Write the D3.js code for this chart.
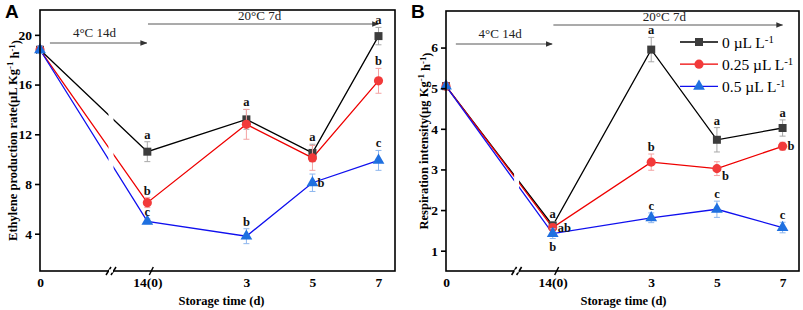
<!DOCTYPE html>
<html>
<head>
<meta charset="utf-8">
<script src="https://cdn.jsdelivr.net/npm/d3@7"></script>
<style>
  html, body { margin: 0; padding: 0; background: #fff; }
  svg { display: block; }
</style>
</head>
<body>
<div id="chart"></div>
<script>
// x categories (storage time) and their place on a broken axis
const xLabels = ["0", "14(0)", "3", "5", "7"]
const xPos = [-3.25, 0, 3, 5, 7]
const seriesNames = ["0 µL L", "0.25 µL L", "0.5 µL L"]

// panel A: ethylene production rate
const eth0 = [18.8, 10.6, 13.2, 10.5, 19.9]
const eth0Err = [0.3, 0.8, 0.8, 0.7, 0.7]
const eth025 = [18.8, 6.5, 12.8, 10.1, 16.3]
const eth025Err = [0.3, 0.4, 1.2, 1.0, 1.0]
const eth05 = [18.8, 5.0, 3.8, 8.1, 9.9]
const eth05Err = [0.3, 0.2, 0.6, 0.7, 0.8]
const ethLetters0 = ["", "a", "a", "a", "a"]
const ethLetters025 = ["", "b", "", "", "b"]
const ethLetters05 = ["", "c", "b", "b", "c"]
const ethTicks = [4, 8, 12, 16, 20]

// panel B: respiration intensity
const res0 = [5.05, 1.62, 5.95, 3.73, 4.02]
const res0Err = [0.05, 0.1, 0.3, 0.3, 0.2]
const res025 = [5.05, 1.57, 3.18, 3.02, 3.57]
const res025Err = [0.05, 0.08, 0.2, 0.17, 0.1]
const res05 = [5.05, 1.42, 1.81, 2.02, 1.57]
const res05Err = [0.05, 0.12, 0.12, 0.2, 0.13]
const resLetters0 = ["", "a", "a", "a", "a"]
const resLetters025 = ["", "ab", "b", "b", "b"]
const resLetters05 = ["", "b", "c", "c", "c"]
const resTicks = [1, 2, 3, 4, 5, 6]

// where each letter sits relative to its point (t=top, r=right, rb=right-below, b=below)
const ethPlace = [["t","t","t","t","t"], ["t","t","t","t","t"], ["t","t","t","r","t"]]
const resPlace = [["t","t","t","t","t"], ["t","r","t","rb","r"], ["t","b","t","t","t"]]

const W = 803, H = 310
const SERIF = "'Liberation Serif', 'DejaVu Serif', serif"
const lineColors = ["#000000", "#ee0000", "#1010ee"]
const markColors = ["#3c3c3c", "#f23a3a", "#1f70e0"]
const errColors = ["#a8a8a8", "#f4a3a3", "#8db6ee"]
const symbols = [d3.symbolSquare, d3.symbolCircle, d3.symbolTriangle]
const symSizes = [64, 66, 60]

const svg = d3.select("#chart").append("svg")
  .attr("width", W).attr("height", H)
  .attr("viewBox", `0,0,${W},${H}`)

const defs = svg.append("defs")
defs.append("marker")
    .attr("id", "arrow")
    .attr("viewBox", "0 0 10 10")
    .attr("refX", 9).attr("refY", 5)
    .attr("markerWidth", 7).attr("markerHeight", 7)
    .attr("markerUnits", "userSpaceOnUse")
    .attr("orient", "auto")
  .append("path")
    .attr("d", "M0,1L10,5L0,9z")
    .attr("fill", "#333")

function supText(sel, parts){
  // parts: array of [text, isSuper]
  parts.forEach(([t, sup], i) => {
    const prev = i > 0 && parts[i-1][1]
    sel.append("tspan")
      .attr("dy", sup ? "-0.45em" : (prev ? "0.45em" : null))
      .attr("font-size", sup ? "0.7em" : null)
      .text(t)
  })
}

function drawPanel(cfg){
  const m = cfg.box
  const x = d3.scaleLinear().domain([-3.25, 7.5]).range([m.left, m.right])
  const y = d3.scaleLinear().domain(cfg.yDomain).range([m.bottom, m.top])
  const g = svg.append("g")
  const breakX = x(-1.1)

  const clipId = "clip" + cfg.id
  const clip = defs.append("clipPath").attr("id", clipId)
  clip.append("rect").attr("x", m.left - 10).attr("y", 0)
    .attr("width", breakX - 2.5 - m.left + 10).attr("height", H)
  clip.append("rect").attr("x", breakX + 2.5).attr("y", 0)
    .attr("width", m.right - breakX).attr("height", H)

  // annotations
  const ann = g.append("g").attr("font-family", SERIF).attr("font-size", 13).attr("fill", "#222")
  ann.append("line")
    .attr("x1", x(-2.95)).attr("x2", x(-0.02))
    .attr("y1", m.top + 33).attr("y2", m.top + 33)
    .attr("stroke", "#444").attr("stroke-width", 0.9)
    .attr("marker-end", "url(#arrow)")
  ann.append("text").attr("x", x(-1.6)).attr("y", m.top + 27)
    .attr("text-anchor", "middle").text("4°C 14d")
  ann.append("line")
    .attr("x1", x(0.02)).attr("x2", x(7.0))
    .attr("y1", m.top + 14).attr("y2", m.top + 14)
    .attr("stroke", "#444").attr("stroke-width", 0.9)
    .attr("marker-end", "url(#arrow)")
  ann.append("text").attr("x", x(3.4)).attr("y", m.top + 10)
    .attr("text-anchor", "middle").text("20°C 7d")

  const line = d3.line().x((d, i) => x(xPos[i])).y(d => y(d))

  cfg.series.forEach((s, k) => {
    g.append("path")
      .datum(s.values)
      .attr("clip-path", `url(#${clipId})`)
      .attr("fill", "none")
      .attr("stroke", lineColors[k])
      .attr("stroke-width", 1.3)
      .attr("d", line)
  })

  cfg.series.forEach((s, k) => {
    const pts = s.values.map((v, i) => ({ v, e: s.errors[i], px: x(xPos[i]) }))
    const eb = g.append("g").attr("stroke", errColors[k]).attr("stroke-width", 1)
    pts.forEach(p => {
      eb.append("line").attr("x1", p.px).attr("x2", p.px)
        .attr("y1", y(p.v - p.e)).attr("y2", y(p.v + p.e))
      ;[p.v - p.e, p.v + p.e].forEach(yy => {
        eb.append("line").attr("x1", p.px - 3).attr("x2", p.px + 3)
          .attr("y1", y(yy)).attr("y2", y(yy))
      })
    })
    g.append("g").selectAll("path").data(pts).join("path")
      .attr("transform", d => `translate(${d.px},${y(d.v)})`)
      .attr("d", d3.symbol(symbols[k], symSizes[k]))
      .attr("fill", markColors[k])
  })

  // significance letters
  const lg = g.append("g").attr("font-family", SERIF).attr("font-size", 12.5)
    .attr("font-weight", "bold").attr("fill", "#111")
  cfg.series.forEach((s, k) => {
    s.values.forEach((v, i) => {
      const t = s.letters[i]
      if(!t) return
      const pl = cfg.place[k][i]
      const px = x(xPos[i])
      let tx = px, ty = y(v + s.errors[i]) - 3, anchor = "middle"
      if(pl == "r"){ tx = px + 5; ty = y(v) + 4; anchor = "start" }
      if(pl == "rb"){ tx = px + 5; ty = y(v) + 11; anchor = "start" }
      if(pl == "b"){ ty = y(v - s.errors[i]) + 12 }
      lg.append("text").attr("x", tx).attr("y", ty).attr("text-anchor", anchor).text(t)
    })
  })

  // frame
  g.append("rect")
    .attr("x", m.left).attr("y", m.top)
    .attr("width", m.right - m.left).attr("height", m.bottom - m.top)
    .attr("fill", "none").attr("stroke", "#000").attr("stroke-width", 1.6)

  // y axis
  g.append("g")
    .attr("transform", `translate(${m.left},0)`)
    .call(d3.axisLeft(y).tickValues(cfg.yTicks).tickSize(5).tickPadding(3)
      .tickFormat(d3.format("d")))
    .call(a => a.select(".domain").remove())
    .call(a => a.selectAll("line").attr("stroke-width", 1.6))
    .call(a => a.selectAll("text")
      .attr("font-family", SERIF).attr("font-size", 13.5)
      .attr("font-weight", "bold").attr("fill", "#000"))

  // x tick labels (no tick marks)
  g.append("g")
    .attr("transform", `translate(0,${m.bottom})`)
    .call(d3.axisBottom(x).tickValues(xPos).tickSize(0).tickPadding(6)
      .tickFormat((d, i) => xLabels[i]))
    .call(a => a.select(".domain").remove())
    .call(a => a.selectAll("text")
      .attr("font-family", SERIF).attr("font-size", 13.5)
      .attr("font-weight", "bold").attr("fill", "#000"))

  // axis break marks
  const bk = g.append("g").attr("stroke", "#000").attr("stroke-width", 1.5)
  ;[breakX - 2.5, breakX + 2.5].forEach(bx => {
    bk.append("line").attr("x1", bx - 2.5).attr("x2", bx + 2.5)
      .attr("y1", m.bottom + 4).attr("y2", m.bottom - 4)
  })
  bk.append("line").attr("x1", x(0.12) - 2).attr("x2", x(0.12) + 2)
    .attr("y1", m.bottom + 4).attr("y2", m.bottom - 4)
  // white gap in the axis line between the slashes
  g.append("rect").attr("x", breakX - 2).attr("y", m.bottom - 1.5)
    .attr("width", 4).attr("height", 3).attr("fill", "#fff")

  // axis titles
  g.append("text")
    .attr("x", (m.left + m.right) / 2 + cfg.xTitleShift).attr("y", 305)
    .attr("text-anchor", "middle")
    .attr("font-family", SERIF).attr("font-size", 12.5).attr("font-weight", "bold")
    .text("Storage time (d)")

  const yt = g.append("text")
    .attr("transform", `translate(${cfg.yTitleX},${(m.top + m.bottom) / 2}) rotate(-90)`)
    .attr("text-anchor", "middle")
    .attr("font-family", SERIF).attr("font-size", 12.5).attr("font-weight", "bold")
  supText(yt, cfg.yTitle)

  g.append("text")
    .attr("x", cfg.labelX).attr("y", 18)
    .attr("font-family", "'Liberation Sans', Arial, sans-serif")
    .attr("font-size", 19).attr("font-weight", "bold")
    .text(cfg.id)

  if(cfg.legend){
    const lgd = g.append("g").attr("font-family", SERIF).attr("font-size", 15.5)
    cfg.series.forEach((s, k) => {
      const ly = m.top + 31 + k * 22.2
      lgd.append("line").attr("x1", 680).attr("x2", 718)
        .attr("y1", ly).attr("y2", ly)
        .attr("stroke", lineColors[k]).attr("stroke-width", 1.3)
      lgd.append("path")
        .attr("transform", `translate(699,${ly})`)
        .attr("d", d3.symbol(symbols[k], symSizes[k]))
        .attr("fill", markColors[k])
      const t = lgd.append("text").attr("x", 722).attr("y", ly + 5.5)
      supText(t, [[seriesNames[k], false], ["-1", true]])
    })
  }
}

drawPanel({
  id: "A",
  box: { left: 40, right: 395, top: 10, bottom: 271 },
  yDomain: [1, 22],
  yTicks: ethTicks,
  labelX: 5, yTitleX: 17, xTitleShift: 4,
  yTitle: [["Ethylene production rate(µL Kg", false], ["-1", true], [" h", false], ["-1", true], [")", false]],
  place: ethPlace,
  series: [
    { values: eth0, errors: eth0Err, letters: ethLetters0 },
    { values: eth025, errors: eth025Err, letters: ethLetters025 },
    { values: eth05, errors: eth05Err, letters: ethLetters05 }
  ]
})

drawPanel({
  id: "B",
  box: { left: 446, right: 799, top: 11, bottom: 271 },
  yDomain: [0.5, 6.9],
  yTicks: resTicks,
  labelX: 411, yTitleX: 428, xTitleShift: 1,
  yTitle: [["Respiration intensity(µg Kg", false], ["-1", true], [" h", false], ["-1", true], [")", false]],
  place: resPlace,
  legend: true,
  series: [
    { values: res0, errors: res0Err, letters: resLetters0 },
    { values: res025, errors: res025Err, letters: resLetters025 },
    { values: res05, errors: res05Err, letters: resLetters05 }
  ]
})
</script>
</body>
</html>
